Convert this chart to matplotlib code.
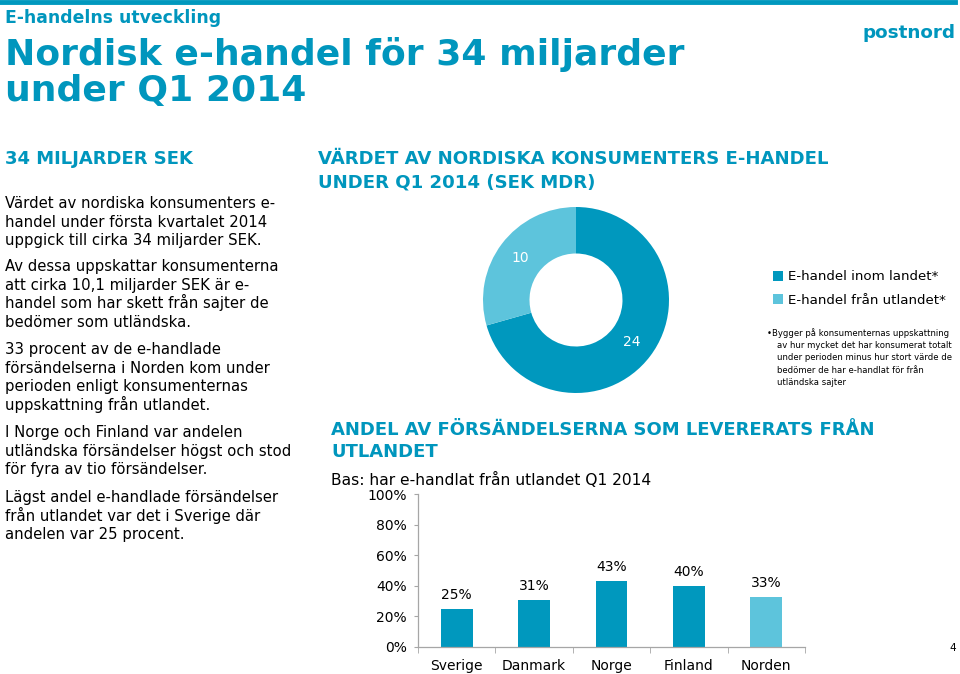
import matplotlib
matplotlib.use("Agg")
import matplotlib.pyplot as plt
from matplotlib.lines import Line2D
from matplotlib.patches import Rectangle

# ---------------- data ----------------
donut_labels = ["E-handel inom landet*", "E-handel från utlandet*"]
donut_values = [24, 10]

bar_categories = ["Sverige", "Danmark", "Norge", "Finland", "Norden"]
bar_values = [0.25, 0.31, 0.43, 0.40, 0.33]
y_ticks = [0, 0.2, 0.4, 0.6, 0.8, 1.0]
y_tick_labels = ["0%", "20%", "40%", "60%", "80%", "100%"]

left_paragraphs = [
    ["Värdet av nordiska konsumenters e-",
     "handel under första kvartalet 2014",
     "uppgick till cirka 34 miljarder SEK."],
    ["Av dessa uppskattar konsumenterna",
     "att cirka 10,1 miljarder SEK är e-",
     "handel som har skett från sajter de",
     "bedömer som utländska."],
    ["33 procent av de e-handlade",
     "försändelserna i Norden kom under",
     "perioden enligt konsumenternas",
     "uppskattning från utlandet."],
    ["I Norge och Finland var andelen",
     "utländska försändelser högst och stod",
     "för fyra av tio försändelser."],
    ["Lägst andel e-handlade försändelser",
     "från utlandet var det i Sverige där",
     "andelen var 25 procent."],
]
footnote_lines = ["•Bygger på konsumenternas uppskattning",
                  "av hur mycket det har konsumerat totalt",
                  "under perioden minus hur stort värde de",
                  "bedömer de har e-handlat för från",
                  "utländska sajter"]

# ---------------- style ----------------
DARK = "#0098BE"
LIGHT = "#5DC4DC"
TITLE = "#0096BD"
W, H = 960, 674

plt.rcParams["font.family"] = ["DejaVu Sans"]
fig = plt.figure(figsize=(W / 100, H / 100), dpi=100)


def fx(x):
    return x / W


def fy(y):
    return 1 - y / H


def txt(x, y, s, size, color="black", weight="normal", ha="left"):
    fig.text(fx(x), fy(y), s, fontsize=size, color=color, fontweight=weight,
             ha=ha, va="baseline")


# top rule
fig.add_artist(Line2D([fx(0), fx(955)], [fy(2), fy(2)], color=DARK, lw=3.5))

# header
txt(5, 23, "E-handelns utveckling", 12.4, TITLE, "bold")
txt(5, 65, "Nordisk e-handel för 34 miljarder", 26, TITLE, "bold")
txt(5, 101, "under Q1 2014", 26, TITLE, "bold")
txt(955, 38, "postnord", 13.2, TITLE, "bold", ha="right")

# left column
txt(5, 164, "34 MILJARDER SEK", 13, TITLE, "bold")
para_starts = [203, 266, 349, 432, 497]
for start, lines in zip(para_starts, left_paragraphs):
    for i, line in enumerate(lines):
        txt(5, start + 5 + i * 18.7, line, 10.7)

# middle headings
txt(318, 164, "VÄRDET AV NORDISKA KONSUMENTERS E-HANDEL", 13.1, TITLE, "bold")
txt(318, 187, "UNDER Q1 2014 (SEK MDR)", 13.1, TITLE, "bold")
txt(331, 435, "ANDEL AV FÖRSÄNDELSERNA SOM LEVERERATS FRÅN", 13, TITLE, "bold")
txt(331, 457, "UTLANDET", 13, TITLE, "bold")
txt(331, 485, "Bas: har e-handlat från utlandet Q1 2014", 11.2)

# ---------------- donut ----------------
cx, cy, r = 576, 300, 93
ax_d = fig.add_axes([fx(cx - r), fy(cy + r), 2 * r / W, 2 * r / H])
wedges, _, autotexts = ax_d.pie(
    donut_values, colors=[DARK, LIGHT], startangle=90, counterclock=False,
    radius=1.0, wedgeprops=dict(width=0.5, linewidth=0),
    autopct=lambda p: f"{p * sum(donut_values) / 100:.0f}", pctdistance=0.75,
    textprops=dict(color="white", fontsize=10))
ax_d.set_xlim(-1, 1)
ax_d.set_ylim(-1, 1)
ax_d.set_aspect("equal")
ax_d.axis("off")

# legend
for i, (lab, col) in enumerate(zip(donut_labels, [DARK, LIGHT])):
    yy = 276 + i * 23
    fig.add_artist(Rectangle((fx(773), fy(yy + 5)), 10 / W, 10 / H,
                             transform=fig.transFigure, color=col, lw=0))
    txt(788, yy + 4.5, lab, 9.6)

for i, line in enumerate(footnote_lines):
    txt(767 if i == 0 else 777, 336 + i * 12.2, line, 6.1)

# page number
txt(956, 651, "4", 7.5, ha="right")

# ---------------- bars ----------------
x0, x1, yb, yt = 418, 805, 647, 494
ax = fig.add_axes([fx(x0), fy(yb), (x1 - x0) / W, (yb - yt) / H])
xs = list(range(len(bar_categories)))
bar_colors = [DARK] * (len(bar_categories) - 1) + [LIGHT]
bars = ax.bar(xs, bar_values, width=0.41, color=bar_colors, linewidth=0)
for b, v in zip(bars, bar_values):
    ax.annotate(f"{v * 100:.0f}%", (b.get_x() + b.get_width() / 2, v),
                xytext=(0, 5), textcoords="offset points",
                ha="center", va="bottom", fontsize=10)
ax.set_xlim(-0.5, len(bar_categories) - 0.5)
ax.set_ylim(0, 1.0)
ax.set_yticks(y_ticks)
ax.set_yticklabels(y_tick_labels, fontsize=10)
ax.set_xticks(xs)
ax.set_xticklabels(bar_categories, fontsize=10)
ax.set_xticks([i - 0.5 for i in range(len(bar_categories) + 1)], minor=True)
ax.tick_params(axis="x", which="major", length=0, pad=8.5)
ax.tick_params(axis="x", which="minor", length=4, color="#A6A6A6", direction="out")
ax.tick_params(axis="y", length=3, color="#A6A6A6", pad=5)
for s in ["top", "right"]:
    ax.spines[s].set_visible(False)
for s in ["left", "bottom"]:
    ax.spines[s].set_color("#A6A6A6")
    ax.spines[s].set_linewidth(0.9)
ax.patch.set_alpha(0)

fig.savefig("out.png", dpi=100)
